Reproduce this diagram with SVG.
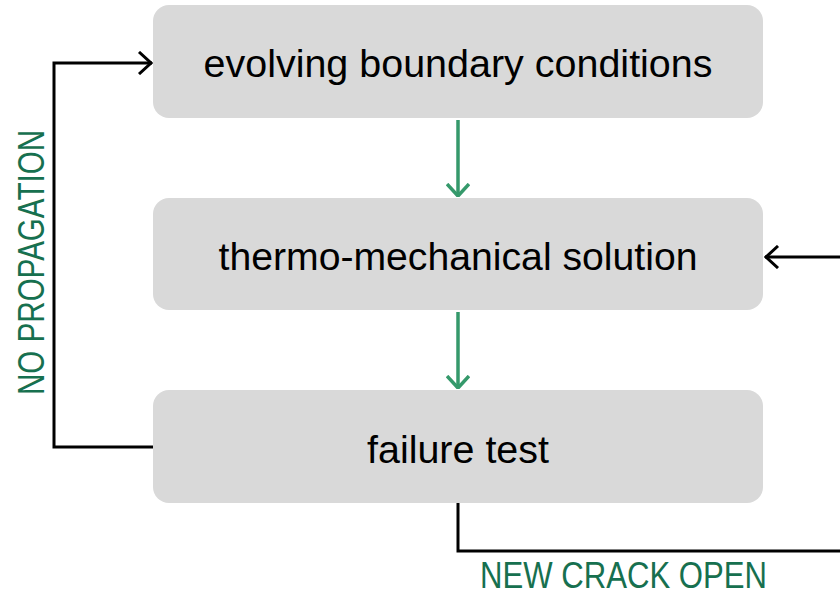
<svg xmlns="http://www.w3.org/2000/svg" width="840" height="595" viewBox="0 0 840 595">
<style>
.box{fill:#d9d9d9}
.t{font-family:"Liberation Sans Narrow","Liberation Sans",Arial,sans-serif;font-size:38px;fill:#000;text-anchor:middle}
.lbl{font-family:"Liberation Sans Narrow","Liberation Sans",Arial,sans-serif;font-size:36px;fill:#17704f;font-weight:normal}
.k{fill:none;stroke:#000;stroke-width:3}
.g{fill:none;stroke:#35996b;stroke-width:3.5}
</style>
<defs>
<marker id="ag" viewBox="0 0 24 14" refX="12" refY="13" markerWidth="24" markerHeight="14" markerUnits="userSpaceOnUse" orient="0">
<path d="M1,1 L12,13 L23,1" fill="none" stroke="#35996b" stroke-width="3.5"/>
</marker>
<marker id="ak2" viewBox="0 0 22 24" refX="21" refY="12" markerWidth="22" markerHeight="24" markerUnits="userSpaceOnUse" orient="auto">
<path d="M8,1 L20,12 L8,23" fill="none" stroke="#000" stroke-width="3"/>
</marker>
</defs>
<g id="connectors">
<path class="g" d="M458,120 V196" marker-end="url(#ag)"/>
<path class="g" d="M458,312 V388" marker-end="url(#ag)"/>
<path class="k" d="M153,447 H54 V63 H152" marker-end="url(#ak2)"/>
<path class="k" d="M840,257 H765" marker-end="url(#ak2)"/>
<path class="k" d="M458,503 V551 H840"/>
</g>
<g id="n1">
<rect class="box" x="153" y="5" width="610" height="113" rx="16"/>
<text class="t" x="458" y="77" textLength="509" lengthAdjust="spacingAndGlyphs">evolving boundary conditions</text>
</g>
<g id="n2">
<rect class="box" x="153" y="198" width="610" height="112" rx="16"/>
<text class="t" x="458" y="270" textLength="479" lengthAdjust="spacingAndGlyphs">thermo-mechanical solution</text>
</g>
<g id="n3">
<rect class="box" x="153" y="390" width="610" height="113" rx="16"/>
<text class="t" x="458" y="463" textLength="182" lengthAdjust="spacingAndGlyphs">failure test</text>
</g>
<g id="labels">
<text class="lbl" transform="translate(44,395) rotate(-90)" x="0" y="0" textLength="265" lengthAdjust="spacingAndGlyphs">NO PROPAGATION</text>
<text class="lbl" x="480" y="588" textLength="287" lengthAdjust="spacingAndGlyphs">NEW CRACK OPEN</text>
</g>
</svg>
